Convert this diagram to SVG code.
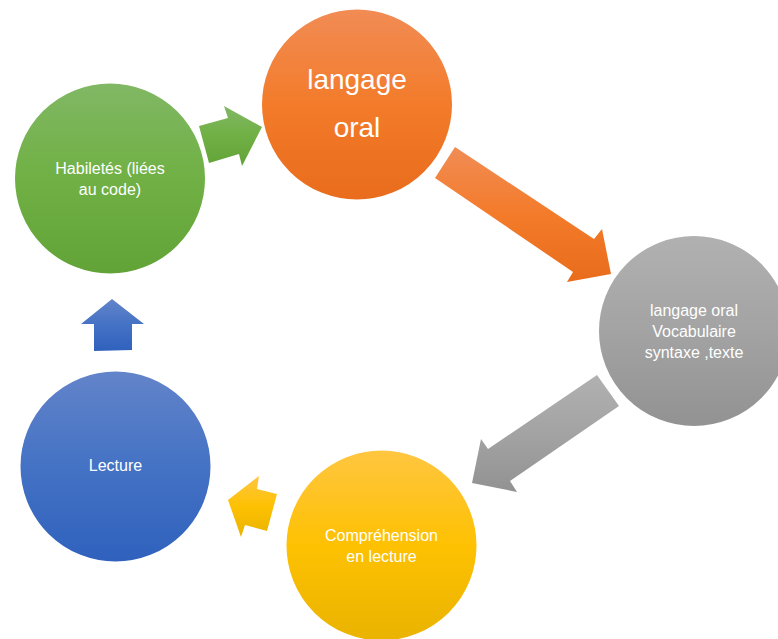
<svg xmlns="http://www.w3.org/2000/svg" width="778" height="639" viewBox="0 0 778 639">
<defs>
<linearGradient id="gGreen" x1="0" y1="0" x2="0" y2="1"><stop offset="0" stop-color="#81b865"/><stop offset="0.5" stop-color="#70b044"/><stop offset="1" stop-color="#62a337"/></linearGradient>
<linearGradient id="gOrange" x1="0" y1="0" x2="0" y2="1"><stop offset="0" stop-color="#f18c55"/><stop offset="0.5" stop-color="#f37b2a"/><stop offset="1" stop-color="#e86c1c"/></linearGradient>
<linearGradient id="gGray" x1="0" y1="0" x2="0" y2="1"><stop offset="0" stop-color="#b1b1b1"/><stop offset="0.5" stop-color="#a3a3a3"/><stop offset="1" stop-color="#929292"/></linearGradient>
<linearGradient id="gYellow" x1="0" y1="0" x2="0" y2="1"><stop offset="0" stop-color="#ffc641"/><stop offset="0.5" stop-color="#fec102"/><stop offset="1" stop-color="#e9b300"/></linearGradient>
<linearGradient id="gBlue" x1="0" y1="0" x2="0" y2="1"><stop offset="0" stop-color="#6384ca"/><stop offset="0.5" stop-color="#4472c4"/><stop offset="1" stop-color="#2f61bd"/></linearGradient>
</defs>
<style>
.node circle { stroke: #ffffff; stroke-width: 2; }
.lbl { font-family: "Liberation Sans", Arial, sans-serif; fill: #ffffff; text-anchor: middle; font-size: 16px; }
.big { font-size: 28px; }
.conn polygon { stroke: none; }
</style>
<rect width="778" height="639" fill="#ffffff"/>
<g id="connectors" class="conn">
<polygon id="a-green" fill="url(#gGreen)" points="199,126 228,118 224,106 262,127 242,166 239,154 209,163"/>
<polygon id="a-orange" fill="url(#gOrange)" points="455,147 594,239 602,229 611,274 567,282 573,272 435,178"/>
<polygon id="a-gray" fill="url(#gGray)" points="619,406 510,481 517,492 472,483 481,439 488,449 597,375"/>
<polygon id="a-yellow" fill="url(#gYellow)" points="277,494 267,531 245,525 241,537 228,500 259,476 257,489"/>
<polygon id="a-blue" fill="url(#gBlue)" points="112,299 144,324 132,324 132,350 94,351 94,324 81,324"/>
</g>
<g id="n-habiletes" class="node">
<circle cx="110" cy="178.5" r="96" fill="url(#gGreen)"/>
<text class="lbl" x="110" y="174">Habiletés (liées</text>
<text class="lbl" x="110" y="195">au code)</text>
</g>
<g id="n-langage" class="node">
<circle cx="357" cy="104.5" r="96" fill="url(#gOrange)"/>
<text class="lbl big" x="357" y="89">langage</text>
<text class="lbl big" x="357" y="137">oral</text>
</g>
<g id="n-vocab" class="node">
<circle cx="694" cy="331" r="96" fill="url(#gGray)"/>
<text class="lbl" x="694" y="316">langage oral</text>
<text class="lbl" x="694" y="337">Vocabulaire</text>
<text class="lbl" x="694" y="358">syntaxe ,texte</text>
</g>
<g id="n-comprehension" class="node">
<circle cx="381.5" cy="545.5" r="96" fill="url(#gYellow)"/>
<text class="lbl" x="381.5" y="541">Compréhension</text>
<text class="lbl" x="381.5" y="562">en lecture</text>
</g>
<g id="n-lecture" class="node">
<circle cx="115.5" cy="466.5" r="96" fill="url(#gBlue)"/>
<text class="lbl" x="115.5" y="471">Lecture</text>
</g>
</svg>
